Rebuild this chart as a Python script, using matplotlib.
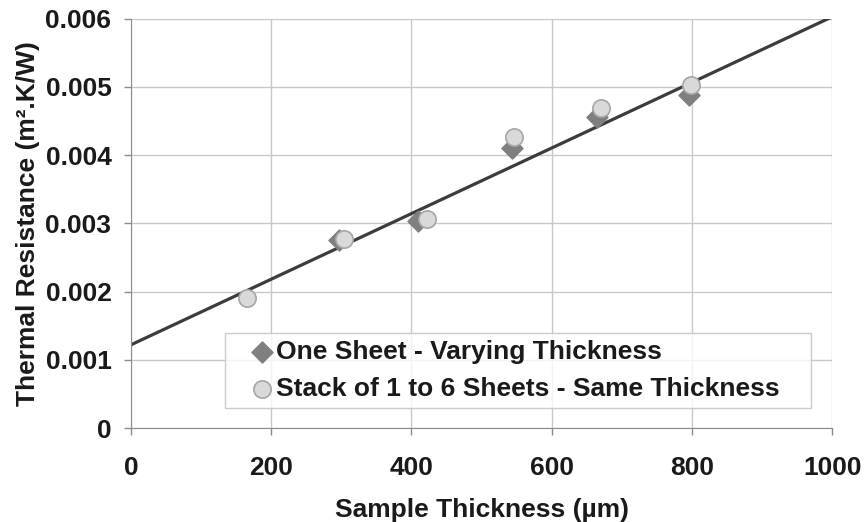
import matplotlib
import matplotlib.pyplot as plt
from matplotlib.legend_handler import HandlerPathCollection
matplotlib.use('Agg')

# One sheet - varying thickness
sheet_x = [296, 410, 543, 665, 796]
sheet_y = [0.00276, 0.00303, 0.00410, 0.00456, 0.00488]

# Stack of 1 to 6 sheets - same thickness
stack_x = [165, 304, 422, 546, 670, 799]
stack_y = [0.00190, 0.00277, 0.00306, 0.00427, 0.00469, 0.00503]

# linear trend line end points
trend_x = [0, 1000]
trend_y = [0.00122, 0.00603]

x_ticks = [0, 200, 400, 600, 800, 1000]
y_ticks = [0, 0.001, 0.002, 0.003, 0.004, 0.005, 0.006]
y_labels = ['0', '0.001', '0.002', '0.003', '0.004', '0.005', '0.006']


def draw_chart():
    plt.rcParams['font.family'] = ['Liberation Sans', 'DejaVu Sans']
    plt.rcParams['font.weight'] = 'bold'

    fig = plt.figure(figsize=(8.67, 5.22), dpi=100)
    ax = fig.add_axes([0.151, 0.180, 0.809, 0.784])

    ax.plot(trend_x, trend_y, color='#3c3c3c', lw=2.3, zorder=2)
    sheet = ax.scatter(sheet_x, sheet_y, marker='D', s=115, color='#7f7f7f',
                       edgecolor='#7f7f7f', label='One Sheet - Varying Thickness', zorder=3)
    stack = ax.scatter(stack_x, stack_y, marker='o', s=155, color='#d9d9d9',
                       edgecolor='#a6a6a6', linewidth=1.2,
                       label='Stack of 1 to 6 Sheets - Same Thickness', zorder=4)

    ax.set_xlim(0, 1000)
    ax.set_ylim(0, 0.006)
    ax.set_xticks(x_ticks)
    ax.set_yticks(y_ticks)
    ax.set_yticklabels(y_labels)
    ax.grid(True, color='#c8c8c8', lw=1.0, zorder=0)
    ax.set_axisbelow(True)

    for side in ['top', 'right']:
        ax.spines[side].set_visible(False)
    for side in ['left', 'bottom']:
        ax.spines[side].set_color('#8c8c8c')
    ax.tick_params(axis='both', labelsize=19, colors='#8c8c8c', labelcolor='#1a1a1a',
                   length=5, width=1)
    ax.tick_params(axis='x', pad=15)
    ax.tick_params(axis='y', pad=9)

    ax.set_xlabel('Sample Thickness (µm)', fontsize=19, fontweight='bold',
                  color='#1a1a1a', labelpad=13)
    ax.set_ylabel('Thermal Resistance (m².K/W)', fontsize=19, fontweight='bold',
                  color='#1a1a1a', labelpad=4)

    # legend box spans most of the width, handles sit a bit in from the edge
    handlers = {sheet: HandlerPathCollection(xpad=0.75),
                stack: HandlerPathCollection(xpad=0.75)}
    leg = ax.legend(loc='lower left', bbox_to_anchor=(0.134, 0.049, 0.836, 0.2),
                    mode='expand', fontsize=19, frameon=True, fancybox=False,
                    handletextpad=0.17, handlelength=1.53, borderpad=0.25,
                    labelspacing=0.52, borderaxespad=0, handler_map=handlers)
    leg.get_frame().set_edgecolor('#bfbfbf')
    leg.get_frame().set_linewidth(1.0)
    for t in leg.get_texts():
        t.set_color('#1a1a1a')

    fig.savefig('out.png', dpi=100)


if __name__ == "__main__":
    draw_chart()
